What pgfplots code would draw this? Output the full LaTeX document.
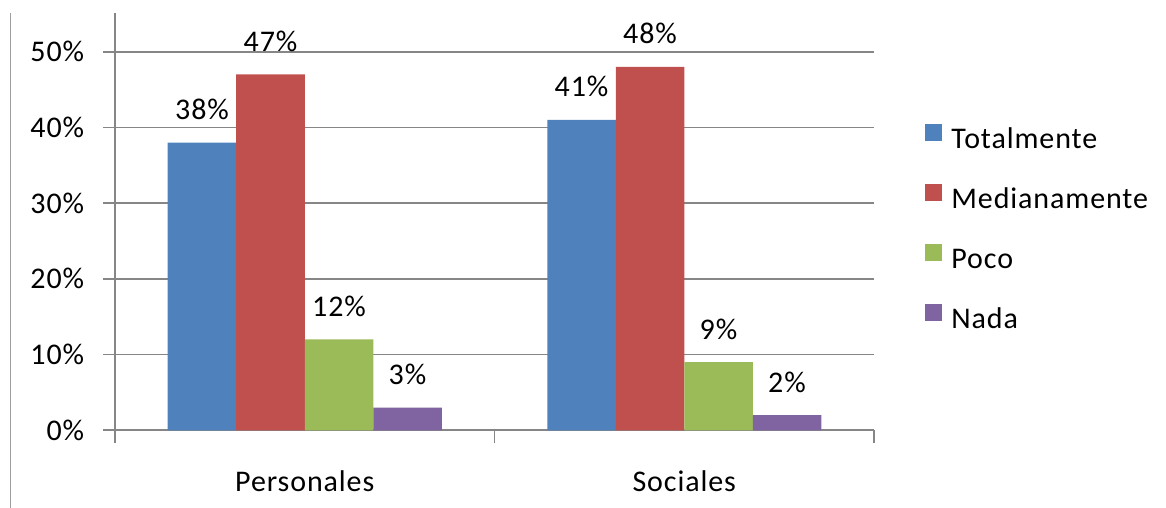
\documentclass[border=0pt]{standalone}
\usepackage{pgfplots}
\pgfplotsset{compat=1.18}
\usepackage{fontspec}
\setmainfont{Carlito}[LetterSpace=3]
\newcommand\cf{\fontsize{15pt}{18pt}\selectfont}
\definecolor{cBlue}{HTML}{4F81BD}
\definecolor{cRed}{HTML}{C0504D}
\definecolor{cGreen}{HTML}{9BBB59}
\definecolor{cPurple}{HTML}{8064A2}
\definecolor{cGrid}{HTML}{868686}
\begin{document}
\begin{tikzpicture}[font=\cf]
\path[use as bounding box] (-57.5pt,-38.85pt) rectangle (525.5pt,215.15pt);
\draw[cGrid!80, line width=0.8pt] (-52.25pt,-40pt) -- (-52.25pt,208.65pt);
\begin{axis}[
  at={(0,0)}, anchor=south west,
  scale only axis, width=379.5pt, height=208.65pt,
  xmin=-0.5, xmax=1.5, ymin=0, ymax=55.12,
  ybar=0pt, bar width=34.25pt,
  axis lines=left, axis line style={-, draw=cGrid, line width=0.8pt},
  tick align=outside,
  ytick={0,10,20,30,40,50},
  yticklabels={0\%,10\%,20\%,30\%,40\%,50\%},
  ytick style={draw=cGrid, line width=0.8pt, /pgfplots/major tick length=6pt},
  ymajorgrids, grid style={draw=cGrid, line width=0.8pt},
  xtick={0,1}, xticklabels={Personales,Sociales},
  xtick style={draw=none},
  extra x ticks={-0.5,0.5,1.5}, extra x tick labels={},
  extra x tick style={grid=none, xtick style={draw=cGrid, line width=0.8pt, /pgfplots/major tick length=6.5pt}},
  yticklabel style={font=\cf, anchor=east, inner sep=0pt, xshift=-11pt},
  xticklabel style={font=\cf, anchor=base, inner sep=0pt, yshift=-26.5pt},
  /pgf/number format/assume math mode=true,
  nodes near coords={\pgfmathprintnumber{\pgfplotspointmeta}\%},
  every node near coord/.append style={font=\cf, inner sep=0pt, text depth=0pt, yshift=11.25pt, black},
  legend image code/.code={\fill[#1] (0pt,0.5pt) rectangle (8.5pt,9pt);},
  legend cell align=left,
  legend style={at={(1.0672,0.482)}, anchor=west, draw=none, fill=none, font=\cf,
    inner sep=0pt, row sep=14.5pt,
    nodes={inner sep=0pt, text height=10pt, text depth=3pt},
    /tikz/every odd column/.append style={column sep=4.5pt}},
]
\addplot[fill=cBlue, draw=none] coordinates {(0,38) (1,41)};
\addplot[fill=cRed, draw=none] coordinates {(0,47) (1,48)};
\addplot[fill=cGreen, draw=none] coordinates {(0,12) (1,9)};
\addplot[fill=cPurple, draw=none] coordinates {(0,3) (1,2)};
\legend{Totalmente,Medianamente,Poco,Nada}
\end{axis}
\end{tikzpicture}
\end{document}
